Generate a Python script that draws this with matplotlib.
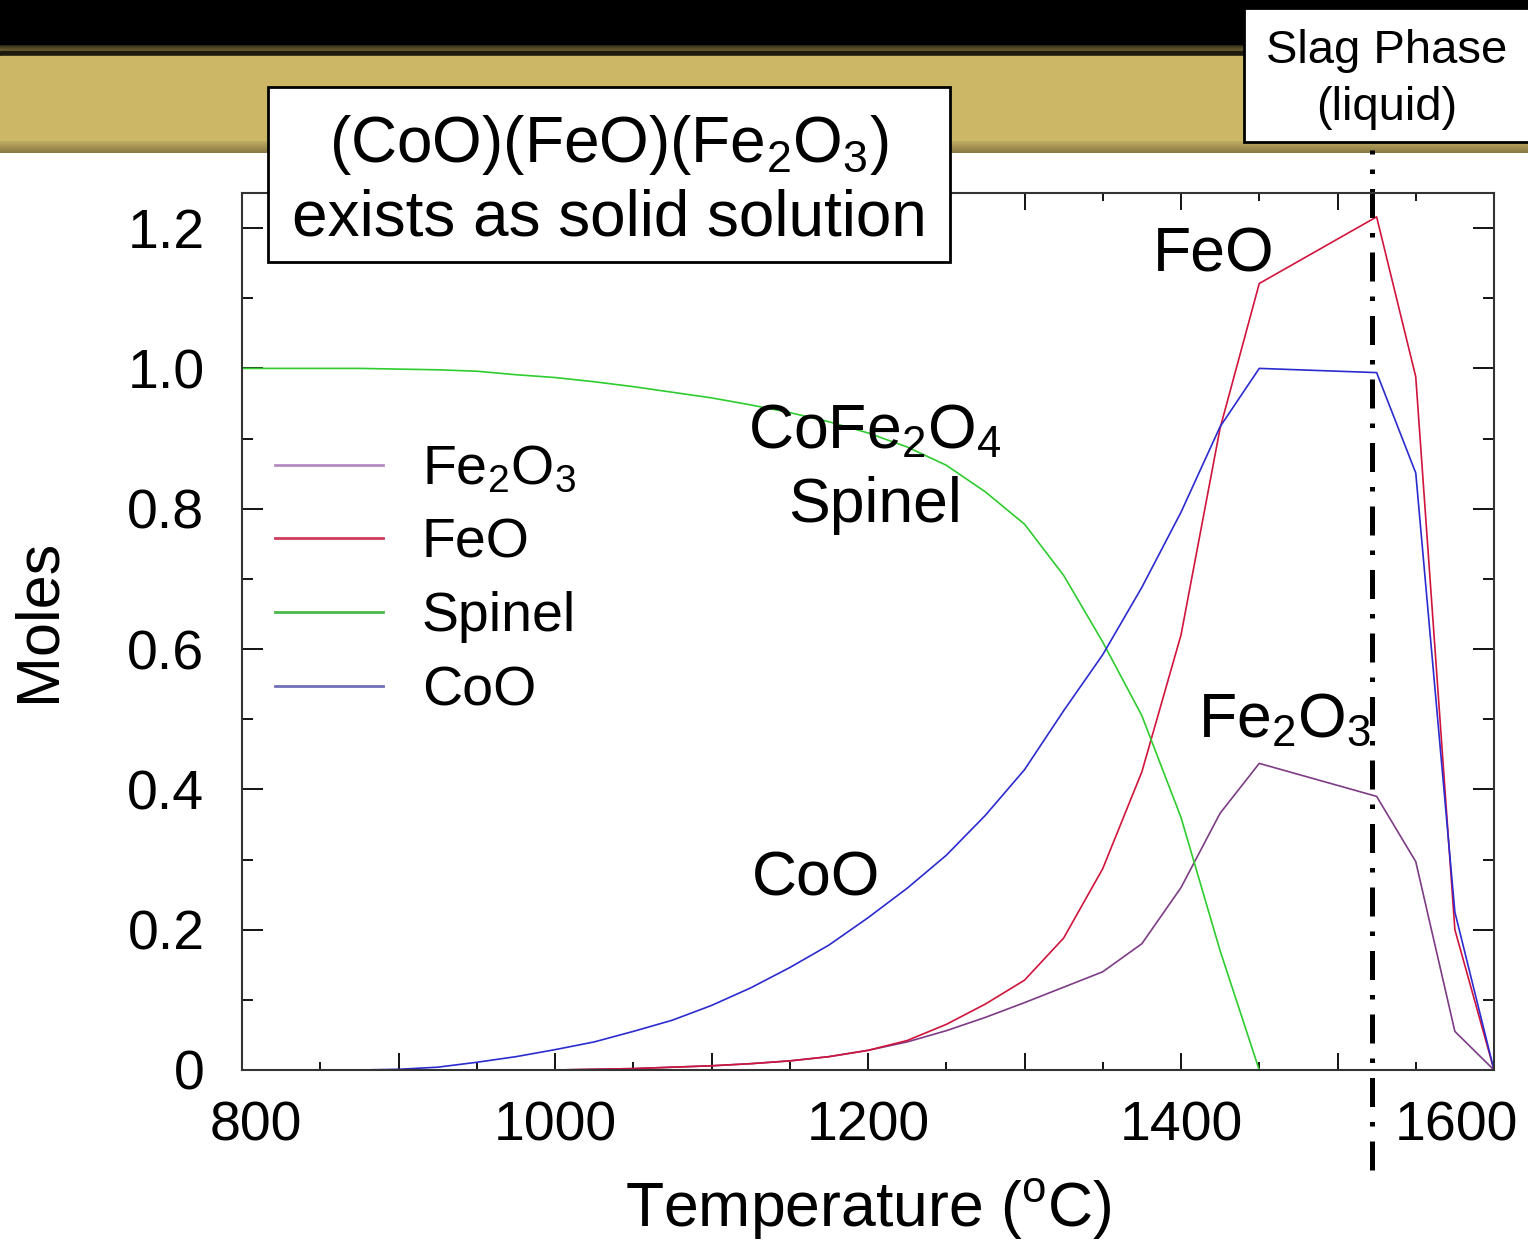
import numpy as np
import matplotlib
matplotlib.use("Agg")
import matplotlib.pyplot as plt
from matplotlib.patches import Rectangle
from matplotlib.lines import Line2D
from matplotlib.ticker import MultipleLocator
from matplotlib.transforms import ScaledTranslation

plt.rcParams['font.family'] = ['Liberation Sans', 'DejaVu Sans']
plt.rcParams['mathtext.fontset'] = 'custom'
plt.rcParams['mathtext.rm'] = 'Liberation Sans'
plt.rcParams['mathtext.it'] = 'Liberation Sans:italic'
plt.rcParams['mathtext.bf'] = 'Liberation Sans:bold'

nan = np.nan

# temperature (C)
temperature = [800, 825, 850, 875, 900, 925, 950, 975, 1000, 1025, 1050, 1075,
               1100, 1125, 1150, 1175, 1200, 1225, 1250, 1275, 1300, 1325, 1350,
               1375, 1400, 1425, 1450, 1525, 1550, 1575, 1600]

fe2o3 = [nan, nan, nan, nan, nan, nan, nan, nan, 0.0, 0.001, 0.002, 0.004,
         0.006, 0.009, 0.013, 0.019, 0.028, 0.040, 0.056, 0.075, 0.096, 0.118, 0.140,
         0.180, 0.260, 0.366, 0.437, 0.390, 0.297, 0.055, 0.0]

feo = [nan, nan, nan, nan, nan, nan, nan, nan, 0.0, 0.001, 0.002, 0.004,
       0.006, 0.009, 0.013, 0.019, 0.028, 0.042, 0.065, 0.094, 0.128, 0.188, 0.287,
       0.425, 0.620, 0.915, 1.121, 1.216, 0.988, 0.200, 0.0]

spinel = [1.0, 1.0, 1.0, 1.0, 0.999, 0.998, 0.996, 0.991, 0.987, 0.981, 0.974, 0.966,
          0.958, 0.948, 0.937, 0.924, 0.908, 0.888, 0.862, 0.824, 0.778, 0.705, 0.610,
          0.505, 0.360, 0.170, 0.0, nan, nan, nan, nan]

coo = [nan, nan, nan, 0.0, 0.001, 0.004, 0.011, 0.019, 0.029, 0.040, 0.055, 0.071,
       0.092, 0.117, 0.146, 0.178, 0.217, 0.259, 0.306, 0.363, 0.428, 0.512, 0.592,
       0.688, 0.795, 0.917, 1.0, 0.994, 0.851, 0.225, 0.0]

series_labels = [r'$\mathregular{Fe_2O_3}$', 'FeO', 'Spinel', 'CoO']
line_colors = ['#7d3c85', '#d0143c', '#2ecc2e', '#2b2bcf']
legend_colors = ['#b48cc0', '#d03a5c', '#4cb84c', '#7070b8']

slag_temp = 1522

W, H = 1528, 1244
fig = plt.figure(figsize=(W / 100, H / 100), dpi=100)

# slide header background
bg = fig.add_axes([0, 0, 1, 1], zorder=-10)
bg.axis('off')
bg.add_patch(Rectangle((0, 0), W, 44, color='black'))
grad1 = np.linspace(0, 1, 20)[:, None, None] * np.array([0x6e, 0x62, 0x34]) / 255
bg.imshow(np.repeat(grad1, 2, axis=1), extent=(0, W, 51, 40), aspect='auto')
bg.add_patch(Rectangle((0, 51), W, 5, color='#1e1a0e'))
bg.add_patch(Rectangle((0, 56), W, 84, color='#ccb767'))
c0 = np.array([0xcc, 0xb7, 0x67]) / 255
c1 = np.array([0x8a, 0x7a, 0x45]) / 255
t = np.linspace(0, 1, 20)[:, None, None]
grad2 = c0 * (1 - t) + c1 * t
bg.imshow(np.repeat(grad2, 2, axis=1), extent=(0, W, 153, 138), aspect='auto')
bg.set_xlim(0, W)
bg.set_ylim(H, 0)

# main plot
ax = fig.add_axes([242 / W, 1 - 1070 / H, 1252 / W, 877 / H])
series = [fe2o3, feo, spinel, coo]
for vals, col in zip(series, line_colors):
    ax.plot(temperature, vals, color=col, lw=1.2)

ax.axvline(slag_temp, ymin=-0.114, ymax=1.049, clip_on=False, color='black',
           lw=3.6, linestyle=(0, (5.8, 3, 0.9, 3)))

ax.set_xlim(800, 1600)
ax.set_ylim(0, 1.25)

ax.set_xticks(range(800, 1601, 100))
ax.set_xticklabels(['800', '', '1000', '', '1200', '', '1400', '', '1600'])
ax.xaxis.set_minor_locator(MultipleLocator(50))
ax.set_yticks([0, 0.2, 0.4, 0.6, 0.8, 1.0, 1.2])
ax.set_yticklabels(['0', '0.2', '0.4', '0.6', '0.8', '1.0', '1.2'])
ax.yaxis.set_minor_locator(MultipleLocator(0.1))

ax.tick_params(axis='x', which='major', direction='in', length=12, width=1.3,
               top=True, labelsize=40, pad=22)
ax.tick_params(axis='x', which='minor', direction='in', length=6, width=1.3, top=True)
ax.tick_params(axis='y', which='major', direction='in', length=15, width=1.3,
               right=True, labelsize=40, pad=27)
ax.tick_params(axis='y', which='minor', direction='in', length=8, width=1.3, right=True)
for sp in ax.spines.values():
    sp.set_linewidth(1.5)
    sp.set_color('#333333')

# tick labels sit a little off their ticks as on the slide
xlabels = ax.get_xticklabels()
xlabels[0].set_transform(xlabels[0].get_transform() + ScaledTranslation(0.14, 0, fig.dpi_scale_trans))
xlabels[-1].set_transform(xlabels[-1].get_transform() + ScaledTranslation(-0.38, 0, fig.dpi_scale_trans))

ax.set_xlabel(r'Temperature ($\mathregular{^oC}$)', fontsize=45)
ax.xaxis.set_label_coords(0.5, -0.123)
ax.set_ylabel('Moles', fontsize=44)
ax.yaxis.set_label_coords(-0.139, 0.513)

handles = [Line2D([], [], color=c, lw=2) for c in legend_colors]
ax.legend(handles, series_labels, loc='center left', bbox_to_anchor=(0.026, 0.558),
          frameon=False, fontsize=40, borderpad=0, borderaxespad=0,
          handlelength=1.95, handletextpad=0.7, labelspacing=0.39)

# overlay with boxes and annotations, in pixel coordinates
ov = fig.add_axes([0, 0, 1, 1], zorder=10)
ov.patch.set_alpha(0)
ov.axis('off')
ov.set_xlim(0, W)
ov.set_ylim(H, 0)

ov.add_patch(Rectangle((268, 87), 682, 175, facecolor='white', edgecolor='black', lw=2))
ov.text(609, 162, r'(CoO)(FeO)($\mathregular{Fe_2O_3}$)', fontsize=46,
        ha='center', va='baseline')
ov.text(609, 236, 'exists as solid solution', fontsize=46, ha='center', va='baseline')

ov.add_patch(Rectangle((1244, 8), 320, 134, facecolor='white', edgecolor='black',
                       lw=2, clip_on=False))
ov.text(1387, 63, 'Slag Phase', fontsize=34, ha='center', va='baseline')
ov.text(1387, 120, '(liquid)', fontsize=34, ha='center', va='baseline')

ov.text(1214, 272, 'FeO', fontsize=45, ha='center', va='baseline')
ov.text(875, 448, r'$\mathregular{CoFe_2O_4}$', fontsize=45, ha='center', va='baseline')
ov.text(875, 522, 'Spinel', fontsize=45, ha='center', va='baseline')
ov.text(816, 895, 'CoO', fontsize=45, ha='center', va='baseline')
ov.text(1285, 737, r'$\mathregular{Fe_2O_3}$', fontsize=45, ha='center', va='baseline')

fig.savefig('out.png', dpi=100)
